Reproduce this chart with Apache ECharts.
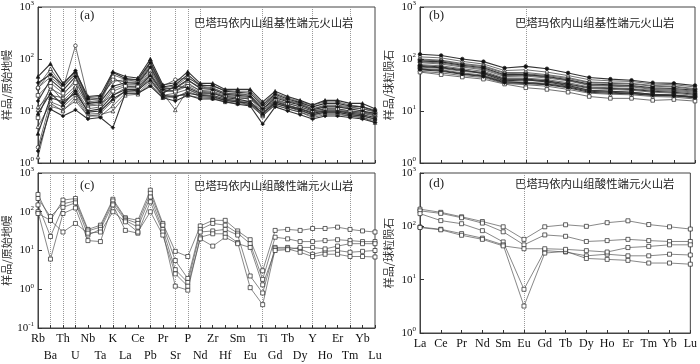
<!DOCTYPE html>
<html>
<head>
<meta charset="UTF-8">
<title>spider</title>
<script src="https://cdn.jsdelivr.net/npm/echarts@6/dist/echarts.min.js"></script>
</head>
<body style="margin:0">
<div id="main" style="width:700px;height:364px"></div>
<script>
// element order
var elems = ['Rb','Ba','Th','U','Nb','Ta','K','La','Ce','Pb','Pr','Sr','P','Nd','Zr','Hf','Sm','Eu','Ti','Gd','Tb','Dy','Y','Ho','Er','Tm','Yb','Lu'];
var ree = ['La','Ce','Pr','Nd','Sm','Eu','Gd','Tb','Dy','Ho','Er','Tm','Yb','Lu'];
var dotsA = ['Ba','Th','U','K','Pb','Sr','P','Nd','Ti','Y','Tm'];
var dotsB = ['Eu'];

// (a) basic, primitive mantle normalised
var basicPM = [
  [46, 81, 34, 57, 19, 20, 57, 46, 43, 100, 32, 35, 57, 34, 34, 26, 26, 26, 15, 24, 19, 16, 13, 16, 16, 14, 14, 11],
  [27, 57, 27, 180, 18, 19, 37, 40, 40, 90, 30, 40, 43, 32, 30, 25, 24, 24, 14, 22, 18, 15, 13, 15, 15, 13, 12, 10.5],
  [30, 65, 30, 50, 15, 16, 50, 40, 37, 81, 28, 30, 45, 30, 28, 22, 22, 20, 12, 20, 16, 14, 11, 13, 13, 12, 11, 10],
  [15.6, 40, 25, 46, 14, 15, 30, 35, 34, 70, 26, 28, 40, 27, 26, 21, 20, 19, 11, 18, 15, 13, 10.5, 12, 12, 11, 10, 9],
  [10.5, 27, 20, 40, 12.5, 13, 27, 32, 32, 66, 24, 25, 32, 25, 24, 20, 19, 18, 10.8, 17, 14, 12, 10, 11, 11, 10, 9.5, 8.5],
  [7.4, 30, 15.6, 27, 11, 12, 24, 30, 30, 60, 24, 24, 30, 23, 22, 19, 18, 17, 10, 16, 13, 11, 9.5, 10.5, 10.5, 9.5, 9, 8],
  [3.7, 18, 15, 22, 10, 11, 20, 26, 26, 49, 22, 30, 28, 22, 22, 18, 17, 15, 9, 15, 12.5, 11, 9, 10, 10, 9, 8.5, 7.5],
  [2, 15, 12, 20, 8.7, 9, 15.6, 24, 24, 45, 20, 22, 26, 20, 20, 17, 15.6, 14, 8, 14, 12, 10, 8.5, 9.5, 9.5, 8.5, 8, 7],
  [1.3, 12.3, 10.5, 15.6, 8, 8, 12.5, 22, 22, 37, 19, 18, 24, 19, 18, 16, 15, 13, 8, 13, 11, 9.5, 8, 9, 9, 8, 7.5, 6.5],
  [1.7, 10.8, 8, 10.5, 7, 7.5, 4.8, 22, 22, 30, 18, 15.6, 20, 17, 17, 15, 13.5, 12.5, 5.6, 12, 10, 8.5, 7, 8, 8, 7.5, 7, 6],
  [12, 20, 18, 30, 13, 14, 20, 28, 28, 55, 22, 10.5, 26, 21, 20, 17, 16, 15, 10, 15, 13, 11, 9.5, 10, 10, 9.5, 9, 8.5],
  [20, 35, 22, 35, 14, 15, 45, 30, 29, 50, 25, 24, 35, 24, 23, 19, 18, 17, 11, 16, 14, 12, 10, 11, 11, 10, 9.5, 9],
  [9, 22, 13, 25, 9.5, 10, 17, 24, 25, 40, 20, 19, 22, 20, 19, 16, 15, 14, 9, 14, 12, 10.5, 8.5, 9.5, 9.5, 8.5, 8, 7],
  [28, 45, 28, 55, 16, 18, 40, 36, 36, 75, 27, 27, 38, 29, 27, 22, 21, 20, 12, 19, 15.6, 13.5, 11, 12.5, 12.5, 11.5, 11, 9.5],
  [5, 14, 10, 18, 8, 8.5, 10, 20, 21, 33, 18, 20, 20, 18, 17.5, 15, 14, 13, 8.5, 13, 11, 9.5, 7.5, 8.5, 8.5, 8, 7.5, 6],
  [35, 50, 32, 60, 17, 17, 55, 42, 40, 85, 29, 32, 50, 31, 31, 24, 23, 22, 13, 21, 17, 14.5, 12, 14, 14, 12.5, 12, 10]
];

// (b) basic, chondrite normalised
var basicCh = [
  [123, 117, 100, 89, 67, 72, 65, 54, 44, 41, 39, 35, 34, 31],
  [110, 105, 90, 80, 60, 62, 56, 48, 40, 38, 37, 33, 32, 29],
  [100, 95, 82, 74, 55, 55, 50, 44, 36, 35, 34, 31, 30, 27],
  [92, 88, 76, 68, 50, 50, 46, 40, 33, 32, 31, 28, 27, 25],
  [85, 80, 70, 62, 46, 47, 43, 38, 31, 30, 29, 26, 25, 23],
  [78, 74, 65, 58, 43, 43, 40, 35, 29, 28, 27, 25, 24, 22],
  [75, 70, 62, 52, 38, 40, 36, 31, 25, 24, 23, 21, 20, 18.5],
  [70, 66, 58, 53, 40, 39, 37, 32, 27, 26, 25, 23, 22, 20],
  [66, 62, 54, 49, 37, 36, 34, 30, 25, 24, 23, 21, 20.5, 19],
  [62, 58, 51, 46, 35, 34, 32, 28, 23, 22, 21.5, 20, 19.5, 18],
  [58, 54, 48, 44, 34, 32, 30, 26, 22, 21, 20.5, 19, 18.5, 17],
  [56, 50, 45, 41, 33, 28, 26, 23, 19, 17.5, 17.5, 16, 16.6, 15.5],
  [64, 60, 52, 47, 36, 35, 33, 29, 24, 23, 22, 20.5, 20, 18.5],
  [88, 84, 73, 65, 48, 49, 45, 39, 32, 31, 30, 27, 26, 24],
  [96, 92, 79, 71, 53, 52, 48, 42, 35, 34, 33, 30, 29, 26],
  [72, 68, 60, 55, 41, 41, 38, 33, 28, 27, 26, 24, 23, 21]
];

// (c) acid, primitive mantle normalised
var acidPM = [
  [280, 60, 200, 220, 35, 45, 210, 70, 60, 360, 50, 9.5, 7, 43, 60, 60, 32, 19, 3, 33, 35, 33, 37, 37, 40, 35, 32, 30],
  [220, 75, 160, 190, 32, 40, 190, 65, 50, 300, 45, 5.5, 1.9, 35, 50, 45, 28, 15, 1.8, 22, 20, 17, 17, 18, 19, 18, 17, 17],
  [150, 23, 130, 170, 25, 35, 160, 60, 40, 240, 35, 3.2, 1.5, 30, 32, 35, 25, 2.2, 0.8, 12, 12, 11, 8, 9.5, 10, 9, 9.5, 10],
  [100, 6, 90, 125, 18, 17, 150, 33, 28, 180, 30, 1.2, 0.95, 22, 27, 27, 16, 1.1, 0.4, 11, 11, 9, 7, 8, 8, 7, 7, 6.8],
  [90, 60, 30, 50, 28, 30, 100, 55, 30, 100, 25, 2.5, 1.2, 20, 13, 22, 15, 12, 1.3, 10, 10.5, 12, 12, 11, 13, 15, 15, 15]
];

// (d) acid, chondrite normalised
var acidCh = [
  [210, 183, 151, 123, 98, 57, 98, 107, 100, 117, 127, 108, 98, 89],
  [195, 175, 145, 115, 79, 45, 69, 65, 52, 54, 57, 54, 52, 52],
  [173, 128, 112, 83, 51, 6.6, 35, 33, 28, 30, 28, 28, 30, 29],
  [97, 88, 73, 60, 45, 3.2, 31.5, 34, 25, 24, 23, 20.5, 20.5, 19.5],
  [95, 86, 68, 57, 43, 38, 38, 37, 35, 33, 40, 42, 45, 45]
];

var serif = 'Liberation Serif';
var cjk = 'Noto Sans CJK SC';

var grids = [
  {left: 35, top: 3, width: 340, height: 160},
  {left: 420, top: 3, width: 275, height: 160},
  {left: 35, top: 173, width: 340, height: 160},
  {left: 420, top: 173, width: 275, height: 160}
];
grids.forEach(function (g) { g.show = true; g.borderColor = '#444'; g.borderWidth = 1; g.backgroundColor = 'transparent'; });

function xAxis(gi, names, dots, label, twoRow) {
  return {
    type: 'category', gridIndex: gi, data: names, boundaryGap: false,
    axisLine: {lineStyle: {color: '#444', width: 1}},
    axisTick: {show: true, inside: true, length: 3, interval: 0, lineStyle: {color: '#333'}},
    axisLabel: {
      show: label, interval: 0, margin: 2, color: '#111', fontFamily: serif, fontSize: 12, lineHeight: 17,
      formatter: function (v, i) { return twoRow && i % 2 ? '\n' + v : v; }
    },
    splitLine: {
      show: true,
      interval: function (i, v) { return dots.indexOf(v) >= 0; },
      lineStyle: {type: 'dotted', color: '#999', width: 1}
    }
  };
}

function yAxis(gi, min, name) {
  return {
    type: 'log', logBase: 10, gridIndex: gi, min: min, max: 1000,
    name: name, nameLocation: 'middle', nameGap: 26, nameRotate: 90,
    nameTextStyle: {fontFamily: cjk, fontSize: 11, color: '#333', verticalAlign: 'bottom'},
    axisLine: {show: true, lineStyle: {color: '#444'}},
    axisTick: {show: true, inside: true, length: 4, lineStyle: {color: '#333'}},
    splitLine: {show: false},
    minorTick: {show: false},
    axisLabel: {
      margin: 4, color: '#111',
      formatter: function (v) { return '{b|10}{s|' + Math.round(Math.log10(v)) + '}'; },
      rich: {
        b: {fontFamily: serif, fontSize: 11, color: '#111'},
        s: {fontFamily: serif, fontSize: 7, color: '#111', padding: [0, 0, 7, 0]}
      }
    }
  };
}

var shapes = ['triangle', 'circle', 'triangle', 'diamond', 'triangle', 'rect'];
function lines(rows, xi, shapeList, fillEvery, color, size) {
  return rows.map(function (r, k) {
    var filled = fillEvery && k % fillEvery === 0;
    return {
      type: 'line', xAxisIndex: xi, yAxisIndex: xi, data: r,
      symbol: shapeList[k % shapeList.length], symbolSize: size,
      lineStyle: {color: color, width: filled ? 1.1 : 0.7},
      itemStyle: {color: filled ? '#111' : '#fff', borderColor: '#222', borderWidth: 0.7},
      z: filled ? 3 : 2
    };
  });
}

var series = []
  .concat(lines(basicPM, 0, shapes, 3, '#333', 3.6))
  .concat(lines(basicCh, 1, ['circle', 'diamond', 'circle', 'rect'], 3, '#333', 3.6))
  .concat(lines(acidPM, 2, ['rect'], 0, '#555', 4))
  .concat(lines(acidCh, 3, ['rect'], 0, '#555', 4));

function txt(x, y, s, font, size) {
  return {type: 'text', left: x, top: y, style: {text: s, font: size + 'px "' + font + '"', fill: '#222'}};
}

var myChart = echarts.init(document.getElementById('main'));
myChart.setOption({
  animation: false,
  backgroundColor: '#fff',
  grid: grids,
  xAxis: [xAxis(0, elems, dotsA, false, false), xAxis(1, ree, dotsB, false, false),
          xAxis(2, elems, dotsA, true, true), xAxis(3, ree, dotsB, true, false)],
  yAxis: [yAxis(0, 1, '样品/原始地幔'), yAxis(1, 1, '样品/球粒陨石'),
          yAxis(2, 0.1, '样品/原始地幔'), yAxis(3, 1, '样品/球粒陨石')],
  series: series,
  graphic: [
    txt(80, 9, '(a)', serif, 13), txt(194, 17, '巴塔玛依内山组基性端元火山岩', cjk, 11.4),
    txt(429, 9, '(b)', serif, 13), txt(515, 17, '巴塔玛依内山组基性端元火山岩', cjk, 11.4),
    txt(80, 179, '(c)', serif, 13), txt(194, 180, '巴塔玛依内山组酸性端元火山岩', cjk, 11.4),
    txt(429, 177, '(d)', serif, 13), txt(515, 178, '巴塔玛依内山组酸性端元火山岩', cjk, 11.4)
  ]
});
</script>
</body>
</html>
